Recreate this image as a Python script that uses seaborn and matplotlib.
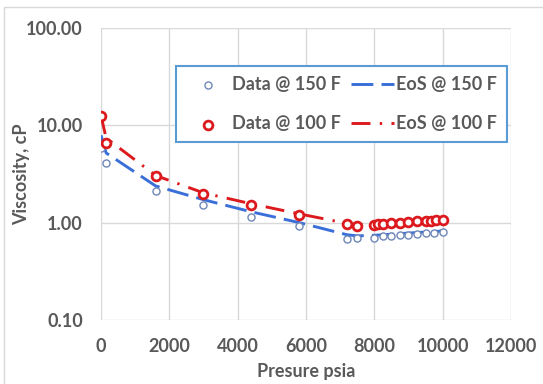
import numpy as np
import pandas as pd
import matplotlib
matplotlib.use("Agg")
import matplotlib.pyplot as plt
import seaborn as sns
from matplotlib.patches import Rectangle

# ---- data ----
p_data_150 = [0, 140, 1600, 3000, 4400, 5800, 7200, 7500, 8000, 8250, 8500,
              8750, 9000, 9250, 9500, 9750, 10000]
visc_data_150 = [5.9, 4.1, 2.09, 1.52, 1.13, 0.93, 0.68, 0.69, 0.70, 0.72, 0.73,
                 0.74, 0.75, 0.77, 0.78, 0.79, 0.80]

p_data_100 = [0, 160, 1600, 3000, 4400, 5800, 7200, 7500, 8000, 8100, 8250,
              8500, 8750, 9000, 9250, 9500, 9650, 9800, 10000]
visc_data_100 = [12.6, 6.6, 2.98, 1.96, 1.52, 1.21, 0.97, 0.93, 0.95, 0.96, 0.97,
                 0.98, 0.99, 1.01, 1.03, 1.05, 1.05, 1.06, 1.07]

p_eos = [0, 150, 1600, 3000, 4400, 5800, 7200, 7500, 8000, 9000, 10000]
visc_eos_150 = [7.9, 5.2, 2.38, 1.72, 1.29, 1.0, 0.75, 0.73, 0.74, 0.78, 0.82]
visc_eos_100 = [12.6, 7.4, 3.05, 2.02, 1.56, 1.23, 0.98, 0.95, 0.96, 1.01, 1.08]

x_ticks = [0, 2000, 4000, 6000, 8000, 10000, 12000]
y_ticks = [0.1, 1, 10, 100]

blue = "#3a6fd9"
red = "#dc1a1e"
text_col = "#595959"

sns.set_style("whitegrid")
plt.rcParams['font.family'] = ['Lato', 'DejaVu Sans']
plt.rcParams['font.weight'] = 'bold'

fig = plt.figure(figsize=(5.43, 3.84), dpi=100)
ax = fig.add_axes([0.186, 0.167, 0.755, 0.760])

# outer chart border
fig.patches.append(Rectangle((4 / 543, -0.1), 1.2, 1 - 7 / 384 + 0.1,
                             transform=fig.transFigure, fill=False,
                             edgecolor="#d9d9d9", linewidth=1.0))

sns.lineplot(x=p_eos, y=visc_eos_150, ax=ax, color=blue, linewidth=2.1,
             linestyle=(0, (7.5, 2.8)), sort=False, label="EoS @ 150 F")
sns.lineplot(x=p_eos, y=visc_eos_100, ax=ax, color=red, linewidth=2.1,
             linestyle=(0, (6.5, 3.2, 0.8, 3.2)), sort=False, label="EoS @ 100 F")
sns.scatterplot(x=p_data_150, y=visc_data_150, ax=ax, marker="o",
                facecolor="white", edgecolor="#6f87b8", linewidth=1.0, s=26,
                label="Data @ 150 F", zorder=3)
sns.scatterplot(x=p_data_100, y=visc_data_100, ax=ax, marker="o",
                facecolor="white", edgecolor=red, linewidth=2.0, s=40,
                label="Data @ 100 F", zorder=4)

ax.set_yscale("log")
ax.set_xlim(0, 12000)
ax.set_ylim(0.1, 100)
ax.set_xticks(x_ticks)
ax.set_yticks(y_ticks)
ax.set_xticklabels([str(t) for t in x_ticks])
ax.set_yticklabels([f"{t:.2f}" for t in y_ticks])
ax.minorticks_off()
ax.grid(True, color="#d9d9d9", linewidth=1.0)
for s in ax.spines.values():
    s.set_visible(False)
ax.tick_params(axis="both", colors=text_col, labelsize=13, length=0)
ax.tick_params(axis="x", pad=13)
ax.tick_params(axis="y", pad=13)
ax.set_xlabel("Presure psia", fontsize=13, color=text_col, fontweight="bold")
ax.set_ylabel("Viscosity, cP", fontsize=13, color=text_col, fontweight="bold")
ax.xaxis.set_label_coords(0.5, -0.148)
ax.yaxis.set_label_coords(-0.172, 0.5)

handles, labels = ax.get_legend_handles_labels()
order = [labels.index(l) for l in ["Data @ 150 F", "Data @ 100 F", "EoS @ 150 F", "EoS @ 100 F"]]
leg = ax.legend([handles[i] for i in order], [labels[i] for i in order],
                ncol=2, loc="upper left", bbox_to_anchor=(0.184, 0.87),
                borderaxespad=0, fontsize=13, frameon=True, fancybox=False,
                framealpha=1, edgecolor="#5b9bd5", handlelength=2.35,
                handletextpad=0.15, columnspacing=0.6, borderpad=0.55,
                labelspacing=1.25)
leg.get_frame().set_linewidth(1.5)
for t in leg.get_texts():
    t.set_color(text_col)

fig.savefig("out.png", dpi=100)
